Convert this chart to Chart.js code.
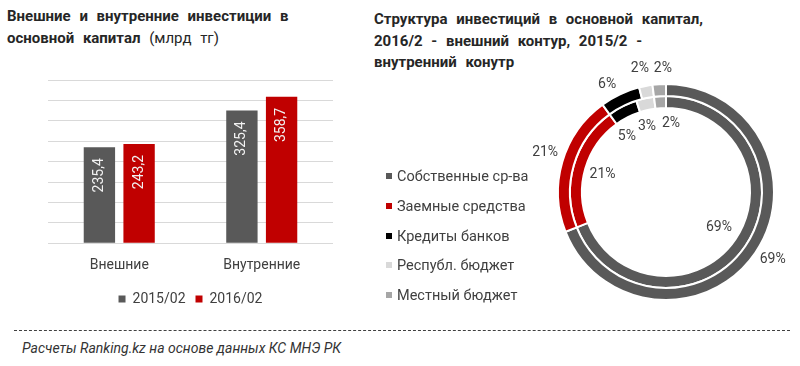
<!DOCTYPE html>
<html lang="ru">
<head>
<meta charset="utf-8">
<script src="https://cdn.jsdelivr.net/npm/chart.js@4"></script>
<style>
  html, body { margin: 0; padding: 0; background: #fff; }
  #wrap { position: relative; width: 800px; height: 366px; overflow: hidden; font-family: Roboto, 'Noto Sans', sans-serif; color: #262626; }
  .title { position: absolute; font-weight: bold; font-size: 15px; line-height: 21.5px; word-spacing: 5px; color: #262626; }
  .title span { font-weight: normal; }
  #barBox { position: absolute; left: 0; top: 0; width: 345px; height: 320px; }
  #pieBox { position: absolute; left: 520px; top: 50px; width: 280px; height: 280px; }
  .leg { position: absolute; left: 386px; font-size: 14.5px; color: #404040; line-height: 16px; }
  .leg i { display: inline-block; width: 6px; height: 6px; margin-right: 5px; vertical-align: 2px; }
  #rule { position: absolute; left: 14px; right: 10px; top: 330px; border-top: 1.5px dashed #404040; }
  #note { position: absolute; left: 22px; top: 340px; font-style: italic; font-size: 14px; color: #333; }
</style>
</head>
<body>
<div id="wrap">
  <div class="title" style="left:7px; top:6px;">Внешние и внутренние инвестиции в<br>основной капитал <span>(млрд тг)</span></div>
  <div class="title" style="left:374px; top:9px;">Структура инвестиций в основной капитал,<br>2016/2 - внешний контур, 2015/2 -<br>внутренний конутр</div>
  <div id="barBox"><canvas id="barChart"></canvas></div>
  <div id="pieBox"><canvas id="pieChart"></canvas></div>
  <div id="pieLegend"></div>
  <div id="rule"></div>
  <div id="note">Расчеты Ranking.kz на основе данных КС МНЭ РК</div>
</div>
<script>
'use strict';

/* ───── DATA ───────────────────────────────────────────────────────────── */
const barCategories = ['Внешние', 'Внутренние'];
const barSeries     = ['2015/02', '2016/02'];
const values2015    = [235.4, 325.4];
const values2016    = [243.2, 358.7];

const pieCategories = ['Собственные ср-ва', 'Заемные средства', 'Кредиты банков', 'Республ. бюджет', 'Местный бюджет'];
const share2016     = [69, 21, 6, 2, 2];   // outer ring
const share2015     = [69, 21, 5, 3, 2];   // inner ring

const GRAY  = '#595959';
const RED   = '#c00000';
const pieColors = ['#595959', '#c00000', '#000000', '#d9d9d9', '#a6a6a6'];
const FONT  = 'Roboto, "Noto Sans", sans-serif';

// small label nudges for crowded slices (like Excel's auto-placement)
const outerNudge = [[0, -5], [3, -4], [-4, 9], [-2, 3], [5, 5]];
const innerNudge = [[0, 0], [-2, 0], [-10, 2], [-5, -3], [9, -5]];

/* ───── BAR VALUE LABELS (rotated, inside top) ─────────────────────────── */
const barLabelPlugin = {
    id: 'barLabels',
    afterDatasetsDraw(chart) {
        const { ctx } = chart;
        ctx.save();
        ctx.font = `14px ${FONT}`;
        ctx.fillStyle = '#f2f2f2';
        ctx.textAlign = 'right';
        ctx.textBaseline = 'middle';
        chart.data.datasets.forEach((ds, i) => {
            chart.getDatasetMeta(i).data.forEach((bar, j) => {
                ctx.save();
                ctx.translate(bar.x, bar.y + 11);
                ctx.rotate(-Math.PI / 2);
                ctx.fillText(ds.data[j].toFixed(1).replace('.', ','), 0, 0);
                ctx.restore();
            });
        });
        ctx.restore();
    },
};

/* ───── DOUGHNUT % LABELS ──────────────────────────────────────────────── */
const ringLabelPlugin = {
    id: 'ringLabels',
    afterDatasetsDraw(chart) {
        const { ctx } = chart;
        ctx.save();
        ctx.font = `14px ${FONT}`;
        ctx.fillStyle = '#404040';
        ctx.textAlign = 'center';
        ctx.textBaseline = 'middle';
        chart.data.datasets.forEach((ds, i) => {
            const nudge = i === 0 ? outerNudge : innerNudge;
            chart.getDatasetMeta(i).data.forEach((arc, j) => {
                const mid = (arc.startAngle + arc.endAngle) / 2;
                const r = i === 0 ? arc.outerRadius + 21 : arc.innerRadius - 20;
                ctx.fillText(ds.data[j] + '%',
                    arc.x + Math.cos(mid) * r + nudge[j][0],
                    arc.y + Math.sin(mid) * r + nudge[j][1]);
            });
        });
        ctx.restore();
    },
};

/* ───── BAR CHART ──────────────────────────────────────────────────────── */
new Chart(document.getElementById('barChart'), {
    type: 'bar',
    data: {
        labels: barCategories,
        datasets: [
            { label: barSeries[0], data: values2015, backgroundColor: GRAY },
            { label: barSeries[1], data: values2016, backgroundColor: RED },
        ],
    },
    options: {
        responsive: true, maintainAspectRatio: false, animation: false,
        layout: { padding: { top: 80, left: 48, right: 12, bottom: 4 } },
        datasets: { bar: { categoryPercentage: 0.557, barPercentage: 0.79 } },
        plugins: {
            legend: {
                position: 'bottom',
                labels: { boxWidth: 7, boxHeight: 7, padding: 10, color: '#404040', font: { family: FONT, size: 14 } },
            },
            tooltip: { enabled: false },
        },
        scales: {
            x: {
                grid: { display: false, drawTicks: false },
                border: { display: false },
                ticks: { padding: 14, color: '#404040', font: { family: FONT, size: 14 } },
                afterFit: ax => { ax.height -= 6; },
            },
            y: {
                min: 0, max: 400,
                ticks: { display: false, stepSize: 50 },
                grid: { color: '#d9d9d9', drawTicks: false },
                border: { display: false },
                afterFit: ax => { ax.width = 0; },
            },
        },
    },
    plugins: [barLabelPlugin],
});

/* ───── DOUGHNUT ───────────────────────────────────────────────────────── */
new Chart(document.getElementById('pieChart'), {
    type: 'doughnut',
    data: {
        labels: pieCategories,
        datasets: [
            { label: '2016/2', data: share2016, backgroundColor: pieColors, borderColor: '#fff', borderWidth: 2 },
            { label: '2015/2', data: share2015, backgroundColor: pieColors, borderColor: '#fff', borderWidth: 2 },
        ],
    },
    options: {
        responsive: true, maintainAspectRatio: false, animation: false,
        cutout: '77.8%',
        layout: { padding: { top: 33, left: 37, right: 25, bottom: 29 } },
        plugins: { legend: { display: false }, tooltip: { enabled: false } },
    },
    plugins: [ringLabelPlugin],
});

/* ───── DOUGHNUT LEGEND ────────────────────────────────────────────────── */
const legTops = [169, 199, 229, 258, 288];
document.getElementById('pieLegend').innerHTML = pieCategories.map((c, i) =>
    `<div class="leg" style="top:${legTops[i]}px"><i style="background:${pieColors[i]}"></i>${c}</div>`
).join('');
</script>
</body>
</html>
